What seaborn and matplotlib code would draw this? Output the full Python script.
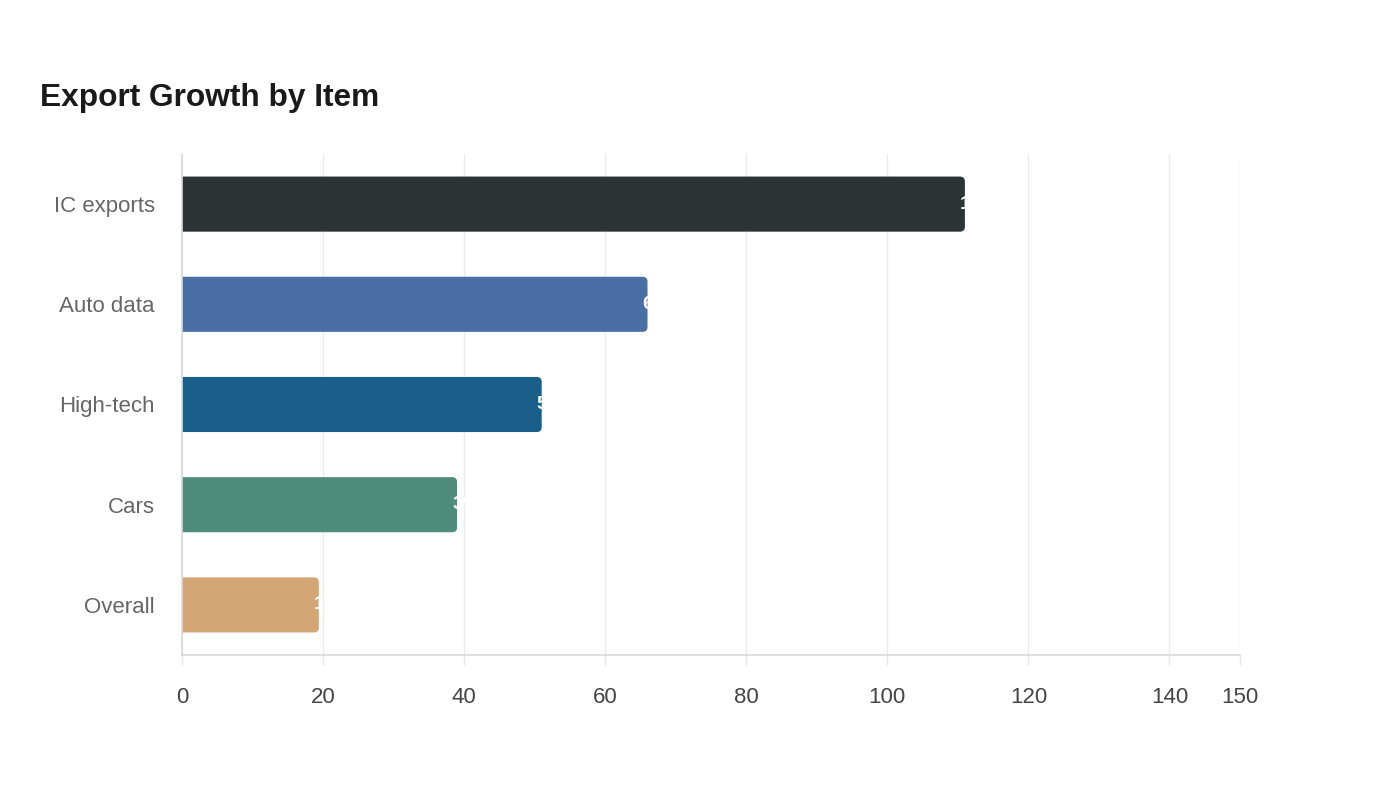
import matplotlib
matplotlib.use("Agg")
import matplotlib.pyplot as plt
import seaborn as sns
import pandas as pd
from matplotlib.patches import PathPatch
from matplotlib.path import Path
from matplotlib.transforms import offset_copy

categories = ["IC exports", "Auto data", "High-tech", "Cars", "Overall"]
values = [111, 66, 51, 39, 19.4]
colors = ["#2d3436", "#4a6fa5", "#1a5f8a", "#4e8c7c", "#d4a574"]
xticks = [0, 20, 40, 60, 80, 100, 120, 140, 150]

sns.set_theme(style="white")
plt.rcParams["font.family"] = ["Liberation Sans", "DejaVu Sans"]

df = pd.DataFrame({"item": categories, "value": values})

fig = plt.figure(figsize=(14, 8), dpi=100)
L, R, B, T = 0.13, 0.8857, 0.18125, 0.8075
ax = fig.add_axes([L, B, R - L, T - B])

sns.barplot(data=df, y="item", x="value", hue="item", palette=colors,
            orient="h", width=0.55, legend=False, ax=ax, saturation=1)

# replace bars with bars whose right corners are rounded
px_per_x = (R - L) * 1400 / 150.0
px_per_y = (T - B) * 800 / 5.0
r_px = 5
rx = r_px / px_per_x
ry = r_px / px_per_y
for p in list(ax.patches):
    x0, y0 = p.get_x(), p.get_y()
    w, h = p.get_width(), p.get_height()
    x1, y1 = x0 + w, y0 + h
    fc = p.get_facecolor()
    p.remove()
    verts = [(x0, y0), (x1 - rx, y0), (x1, y0), (x1, y0 + ry),
             (x1, y1 - ry), (x1, y1), (x1 - rx, y1), (x0, y1), (x0, y0)]
    codes = [Path.MOVETO, Path.LINETO, Path.CURVE3, Path.CURVE3,
             Path.LINETO, Path.CURVE3, Path.CURVE3, Path.LINETO, Path.CLOSEPOLY]
    ax.add_patch(PathPatch(Path(verts, codes), facecolor=fc, edgecolor="none", zorder=2))

for i, v in enumerate(values):
    tr = offset_copy(ax.transData, fig=fig, x=-5, y=0, units="dots")
    ax.text(v, i, f"{v:g}", transform=tr, ha="left", va="center",
            color="white", fontsize=14, fontweight="bold", zorder=3)

ax.set_xlim(0, 150)
ax.set_ylim(4.5, -0.5)
ax.set_xticks(xticks)
ax.set_xticklabels([str(t) for t in xticks])
ax.set_xlabel("")
ax.set_ylabel("")
ax.grid(axis="x", color="#ebebeb", linewidth=1, zorder=0)
ax.grid(axis="y", visible=False)
ax.set_axisbelow(True)
for s in ["top", "right"]:
    ax.spines[s].set_visible(False)
for s in ["left", "bottom"]:
    ax.spines[s].set_color("#d9d9d9")
    ax.spines[s].set_linewidth(1.2)
ax.tick_params(axis="x", length=7, color="#e6e6e6", width=1, pad=16,
               labelsize=16, labelcolor="#444444", bottom=True)
ax.tick_params(axis="y", length=0, pad=19.5, labelsize=16, labelcolor="#666666")

fig.text(40 / 1400, 1 - 98 / 800, "Export Growth by Item", fontsize=22.75,
         fontweight="bold", color="#1a1a1a", ha="left", va="center")

fig.savefig("out.png", dpi=100)
